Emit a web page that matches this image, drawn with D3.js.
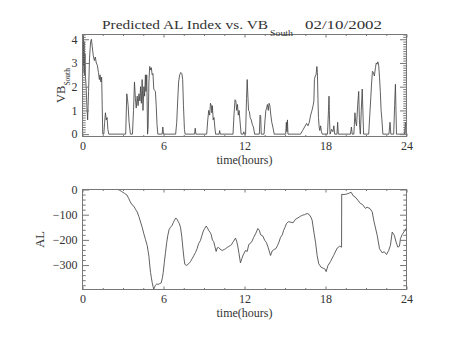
<!DOCTYPE html>
<html>
<head>
<meta charset="utf-8">
<script src="https://cdn.jsdelivr.net/npm/d3@7"></script>
<style>
  body { margin: 0; background: #fff; }
  text { font-family: "Liberation Serif", "DejaVu Serif", serif; fill: #333; }
</style>
</head>
<body>
<svg id="chart" width="454" height="341"></svg>
<script>
// Tick labels
const hourTicks = [0, 6, 12, 18, 24];
const vbTicks = [0, 1, 2, 3, 4];
const alTicks = [0, -100, -200, -300];

// Southward solar wind V*B (upper panel)
const vbTime = [0.00,0.03,0.06,0.09,0.12,0.15,0.18,0.22,0.27,0.32,0.38,0.45,0.52,0.60,0.66,0.72,0.80,0.88,0.95,1.02,
  1.10,1.18,1.25,1.30,1.36,1.42,1.46,1.50,1.58,1.64,1.70,1.76,1.82,1.88,1.95,3.20,3.28,3.33,3.38,3.45,
  3.55,3.70,3.78,3.85,3.92,3.98,4.05,4.12,4.18,4.25,4.30,4.36,4.42,4.48,4.55,4.60,4.66,4.70,4.76,4.82,
  4.86,4.92,4.98,5.04,5.10,5.16,5.22,5.28,5.34,5.40,5.46,5.52,5.58,5.90,5.95,6.00,6.90,6.98,7.05,7.12,
  7.20,7.28,7.36,7.42,7.48,7.55,7.60,8.30,8.35,8.40,9.20,9.28,9.35,9.42,9.48,9.54,9.58,9.62,9.68,9.74,
  9.80,9.86,10.12,10.16,10.20,11.15,11.22,11.30,11.36,11.42,11.48,11.54,11.60,11.66,11.75,11.90,11.95,12.00,12.08,12.15,
  12.20,12.25,12.30,12.36,12.42,12.50,12.58,12.66,12.75,13.10,13.15,13.20,13.24,13.45,13.52,13.58,13.64,13.70,13.76,13.82,
  13.88,13.95,14.02,14.10,14.20,15.05,15.10,15.14,15.18,15.22,16.15,16.30,16.45,16.60,16.70,16.80,16.90,17.00,17.08,17.14,
  17.18,17.24,17.30,17.36,17.40,17.44,17.48,17.53,17.58,17.64,17.70,17.76,18.15,18.22,18.26,18.30,18.34,18.45,18.55,18.62,
  18.68,18.85,18.90,18.95,19.85,19.92,19.98,20.10,20.18,20.24,20.30,20.38,20.46,20.52,20.58,20.65,20.72,20.78,20.82,21.20,
  21.28,21.36,21.42,21.48,21.55,21.62,21.70,21.76,21.82,21.88,21.94,22.00,22.06,22.12,22.18,22.25,22.70,22.78,22.84,23.05,
  23.12,23.18,23.22,23.26,23.85,23.92,23.96,24.00];
const vbValue = [4.10,2.6,4.15,2.9,3.9,2.5,3.4,2.4,2.0,1.2,0.6,1.8,3.2,3.9,4.0,3.7,3.3,3.1,3.25,3.0,
  2.9,2.6,2.3,2.5,2.2,2.4,1.2,0.0,0.0,0.5,0.9,0.6,0.7,0.2,0.0,0.0,1.7,1.5,1.2,0.5,
  0.0,0.0,1.0,2.2,1.5,1.1,1.6,1.2,1.7,1.4,2.0,1.3,2.3,1.0,2.0,1.6,2.5,1.8,2.5,0.0,
  0.3,2.2,2.85,2.7,2.8,2.5,2.55,1.9,1.85,1.8,1.2,0.4,0.0,0.0,0.3,0.0,0.0,0.5,1.4,2.2,
  2.5,2.6,2.55,2.3,1.2,0.2,0.0,0.0,0.25,0.0,0.0,0.6,1.0,0.8,1.3,1.2,0.9,1.2,0.6,0.7,
  0.3,0.0,0.0,0.15,0.0,0.0,0.8,1.45,1.4,1.0,1.25,0.8,1.0,0.6,0.0,0.0,0.1,0.0,0.0,1.5,
  2.3,1.6,1.0,0.95,0.7,0.6,0.4,0.3,0.0,0.0,0.8,0.75,0.0,0.0,0.6,1.0,1.1,1.25,1.0,1.3,
  1.2,0.8,0.5,0.3,0.0,0.0,0.5,0.1,0.6,0.0,0.0,0.15,0.3,0.45,0.35,0.5,0.8,1.0,1.2,1.4,
  2.3,2.45,2.5,2.85,2.6,1.5,0.7,0.3,0.15,0.35,0.1,0.0,0.0,1.0,1.6,0.6,0.0,0.2,0.1,0.35,
  0.0,0.0,0.5,0.0,0.0,0.3,0.0,0.0,0.9,0.5,0.35,1.2,1.8,0.4,0.0,1.0,1.9,0.8,0.0,0.0,
  0.8,1.6,2.2,2.65,2.6,2.45,2.8,3.0,2.95,3.05,2.9,2.4,1.8,1.0,0.6,0.0,0.0,0.5,0.0,0.0,
  1.2,2.1,1.0,0.0,0.0,0.5,0.0,0.0];

// Predicted AL index (lower panel)
const alTime = [0,2.62,2.75,2.9,3.1,3.29,3.42,3.54,3.66,3.8,3.92,4.05,4.18,4.3,4.42,4.54,4.66,4.79,4.86,4.92,
  4.98,5.04,5.1,5.16,5.22,5.28,5.34,5.4,5.5,5.6,5.7,5.83,5.92,5.98,6.06,6.15,6.24,6.32,6.42,6.52,
  6.64,6.72,6.81,6.91,7.0,7.08,7.17,7.26,7.35,7.45,7.52,7.58,7.68,7.75,7.88,8.0,8.12,8.25,8.37,8.49,
  8.6,8.74,8.85,8.95,9.05,9.16,9.25,9.35,9.45,9.53,9.62,9.72,9.8,9.9,9.98,10.08,10.2,10.35,10.5,10.6,
  10.72,10.84,10.96,11.06,11.1,11.2,11.33,11.42,11.5,11.58,11.7,11.8,11.9,11.98,12.07,12.2,12.32,12.44,12.56,12.68,
  12.82,12.99,13.1,13.2,13.35,13.5,13.62,13.75,13.93,14.05,14.2,14.32,14.45,14.55,14.67,14.8,14.9,15.0,15.11,15.25,
  15.45,15.6,15.78,15.95,16.15,16.3,16.45,16.64,16.8,16.92,17.01,17.14,17.26,17.38,17.5,17.68,17.85,17.95,18.05,18.18,
  18.37,18.6,18.86,19.05,19.19,19.2,19.3,19.5,19.73,19.9,20.05,20.2,20.39,20.58,20.75,20.96,21.08,21.3,21.46,21.6,
  21.83,22.0,22.2,22.35,22.52,22.68,22.81,22.94,23.1,23.23,23.36,23.48,23.55,23.68,23.8,24.0];
const alValue = [0,0,-3,-8,-15,-22,-35,-49,-60,-66,-78,-89,-108,-129,-150,-175,-198,-222,-245,-265,
  -300,-329,-350,-369,-385,-395,-388,-380,-375,-377,-374,-371,-350,-329,-290,-249,-210,-182,-158,-150,
  -142,-132,-122,-113,-118,-126,-135,-150,-185,-240,-275,-297,-301,-300,-294,-286,-275,-262,-250,-235,
  -215,-202,-182,-165,-155,-145,-152,-163,-170,-178,-200,-207,-225,-246,-232,-230,-237,-242,-238,-235,
  -230,-226,-222,-218,-212,-205,-193,-205,-225,-250,-291,-275,-260,-252,-242,-246,-218,-214,-205,-190,
  -176,-155,-162,-180,-184,-202,-210,-230,-262,-244,-238,-235,-222,-209,-190,-180,-162,-150,-135,-128,
  -130,-132,-118,-113,-106,-102,-100,-95,-100,-110,-122,-169,-209,-262,-295,-309,-313,-315,-326,-302,
  -286,-262,-233,-225,-229,-19,-20,-19,-15,-11,-25,-30,-42,-55,-60,-75,-70,-76,-89,-129,
  -182,-235,-251,-247,-258,-242,-222,-169,-182,-209,-229,-225,-195,-179,-169,-153];

const svg = d3.select("#chart");
const plotLeft = 82.5, plotRight = 406.5;
const axisColor = "#777";
const labelSize = "12px";
const x = d3.scaleLinear().domain([0, 24]).range([plotLeft, plotRight]);
const hourMinor = d3.range(0, 24.001, 1.5).filter(v => v % 6 !== 0);

function panel(opts) {
  const { y, yTicks, yMinor, times, values, yTitle } = opts;
  const [bottom, top] = y.range();
  const g = svg.append("g");
  const axisStyle = sel => sel.attr("font-family", null).attr("font-size", null)
    .call(s => s.selectAll("text").style("font-size", labelSize).style("fill", "#333"))
    .call(s => s.selectAll("line").attr("stroke", axisColor))
    .call(s => s.select(".domain").remove());

  // data trace
  g.append("path")
    .datum(d3.zip(times, values))
    .attr("fill", "none")
    .attr("stroke", "#444")
    .attr("stroke-width", 0.85)
    .attr("stroke-linejoin", "round")
    .attr("d", d3.line().x(d => x(d[0])).y(d => y(d[1])));

  // x axes (bottom labelled, top mirrored), ticks pointing inward
  g.append("g").attr("transform", `translate(0,${bottom})`)
    .call(d3.axisBottom(x).tickValues(hourTicks).tickSize(-3).tickPadding(5).tickFormat(d3.format("d")))
    .call(axisStyle);
  g.append("g").attr("transform", `translate(0,${bottom})`)
    .call(d3.axisBottom(x).tickValues(hourMinor).tickSize(-1.5).tickFormat(""))
    .call(axisStyle);
  g.append("g").attr("transform", `translate(0,${top})`)
    .call(d3.axisTop(x).tickValues(hourTicks).tickSize(-3).tickFormat(""))
    .call(axisStyle);
  g.append("g").attr("transform", `translate(0,${top})`)
    .call(d3.axisTop(x).tickValues(hourMinor).tickSize(-1.5).tickFormat(""))
    .call(axisStyle);

  // y axes (left labelled, right mirrored)
  g.append("g").attr("transform", `translate(${plotLeft},0)`)
    .call(d3.axisLeft(y).tickValues(yTicks).tickSize(-6.5).tickPadding(5).tickFormat(d3.format("d")))
    .call(axisStyle);
  g.append("g").attr("transform", `translate(${plotLeft},0)`)
    .call(d3.axisLeft(y).tickValues(yMinor).tickSize(-3.2).tickFormat(""))
    .call(axisStyle);
  g.append("g").attr("transform", `translate(${plotRight},0)`)
    .call(d3.axisRight(y).tickValues(yTicks).tickSize(-6.5).tickFormat(""))
    .call(axisStyle);
  g.append("g").attr("transform", `translate(${plotRight},0)`)
    .call(d3.axisRight(y).tickValues(yMinor).tickSize(-3.2).tickFormat(""))
    .call(axisStyle);

  // frame
  g.append("rect")
    .attr("x", plotLeft).attr("y", top)
    .attr("width", plotRight - plotLeft).attr("height", bottom - top)
    .attr("fill", "none").attr("stroke", axisColor).attr("stroke-width", 1);

  // x title
  g.append("text")
    .attr("x", (plotLeft + plotRight) / 2).attr("y", bottom + 27.5)
    .attr("text-anchor", "middle").style("font-size", labelSize)
    .text("time(hours)");

  yTitle(g, (top + bottom) / 2);
}

// Upper panel: VB_South
panel({
  y: d3.scaleLinear().domain([-0.1, 4.2]).range([136.5, 34.5]),
  yTicks: vbTicks,
  yMinor: d3.range(0, 4.2001, 0.1).map(v => +v.toFixed(1)).filter(v => !Number.isInteger(v)),
  times: vbTime, values: vbValue,
  yTitle: (g, cy) => {
    const t = g.append("text")
      .attr("transform", `translate(65,${cy}) rotate(-90)`)
      .attr("text-anchor", "middle").style("font-size", "12.5px");
    t.append("tspan").text("VB");
    t.append("tspan").attr("dy", 4.5).style("font-size", "7.5px").text("South");
  }
});

// Lower panel: AL
panel({
  y: d3.scaleLinear().domain([-397, 0]).range([289.5, 189.5]),
  yTicks: alTicks,
  yMinor: d3.range(-380, 0, 20).filter(v => v % 100 !== 0),
  times: alTime, values: alValue,
  yTitle: (g, cy) => {
    g.append("text")
      .attr("transform", `translate(44,${cy}) rotate(-90)`)
      .attr("text-anchor", "middle").style("font-size", "12.5px")
      .text("AL");
  }
});

// Title
svg.append("text").attr("x", 102).attr("y", 29)
  .attr("textLength", 166).attr("lengthAdjust", "spacingAndGlyphs")
  .style("font-size", "12.5px").text("Predicted AL Index vs. VB");
svg.append("text").attr("x", 270).attr("y", 35.5)
  .attr("textLength", 23).attr("lengthAdjust", "spacingAndGlyphs")
  .style("font-size", "7.5px").text("South");
svg.append("text").attr("x", 305).attr("y", 29)
  .attr("textLength", 77).attr("lengthAdjust", "spacingAndGlyphs")
  .style("font-size", "12.5px").text("02/10/2002");
</script>
</body>
</html>
